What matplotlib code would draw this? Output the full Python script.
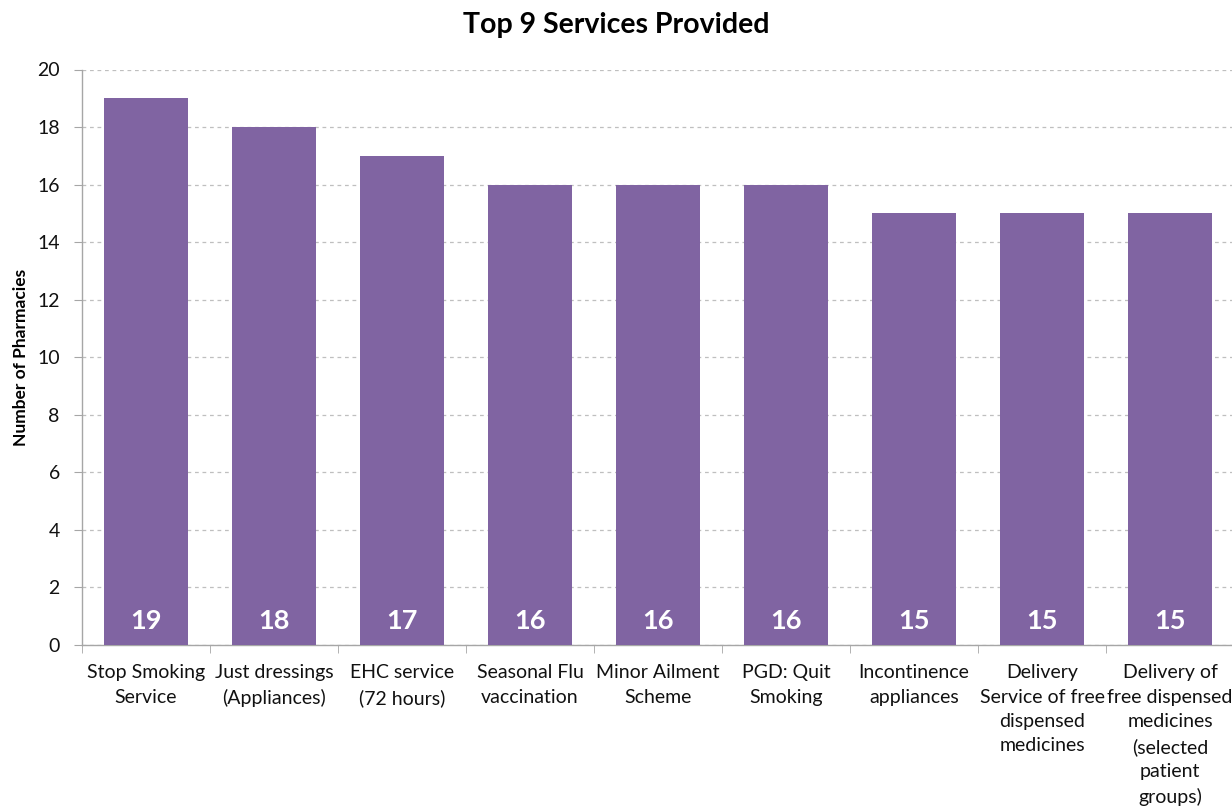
import matplotlib
matplotlib.use("Agg")
import matplotlib.pyplot as plt

plt.rcParams['font.family'] = ['Lato', 'DejaVu Sans']

# data
services = [
    "Stop Smoking\nService",
    "Just dressings\n(Appliances)",
    "EHC service\n(72 hours)",
    "Seasonal Flu\nvaccination",
    "Minor Ailment\nScheme",
    "PGD: Quit\nSmoking",
    "Incontinence\nappliances",
    "Delivery\nService of free\ndispensed\nmedicines",
    "Delivery of\nfree dispensed\nmedicines\n(selected\npatient\ngroups)",
]
pharmacies = [19, 18, 17, 16, 16, 16, 15, 15, 15]
y_ticks = list(range(0, 21, 2))

bar_colour = '#8064A2'
axis_grey = '#A6A6A6'

fig = plt.figure(figsize=(12.32, 8.08), dpi=100)
ax = fig.add_axes([82 / 1232, 1 - 645 / 808, (1234 - 82) / 1232, (645 - 69.5) / 808])

x = range(len(services))
bars = ax.bar(x, pharmacies, width=0.66, color=bar_colour, zorder=3)

# white value labels at foot of each bar
for xi, v in zip(x, pharmacies):
    ax.text(xi, 0.85, str(v), ha='center', va='center', color='white',
            fontsize=19.5, fontweight='bold', zorder=4)

ax.set_xlim(-0.5, len(services) - 0.5)
ax.set_ylim(0, 20)
ax.set_yticks(y_ticks)
ax.tick_params(axis='y', labelsize=14, length=6, color=axis_grey, pad=10, labelcolor='#111111')

# category labels between boundary ticks
ax.set_xticks(list(x))
ax.set_xticklabels(services, fontsize=14, linespacing=1.52, color='#111111')
ax.tick_params(axis='x', length=0, pad=14)
ax.set_xticks([i - 0.5 for i in range(len(services) + 1)], minor=True)
ax.tick_params(axis='x', which='minor', length=6, color=axis_grey)

ax.grid(axis='y', linestyle=(0, (3, 3)), color='#BFBFBF', linewidth=0.9, zorder=0)
for side in ['top', 'right']:
    ax.spines[side].set_visible(False)
for side in ['left', 'bottom']:
    ax.spines[side].set_color(axis_grey)
    ax.spines[side].set_linewidth(1.0)

ax.set_ylabel("Number of Pharmacies", fontsize=12.5, fontweight='bold', labelpad=6)
fig.text(0.5, 1 - 25 / 808, "Top 9 Services Provided", ha='center', va='center',
         fontsize=20.5, fontweight='bold')

fig.savefig("out.png", dpi=100)
